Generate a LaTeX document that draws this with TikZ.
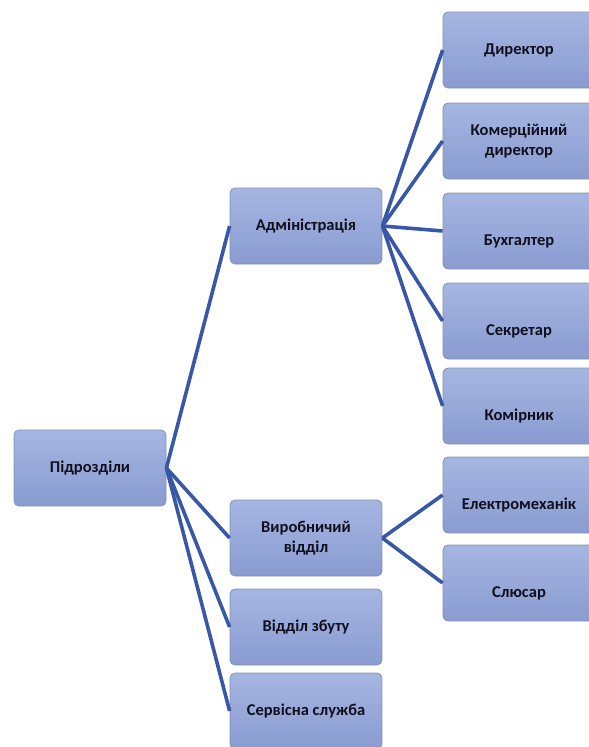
\documentclass[tikz,border=0pt]{standalone}
\usepackage{fontspec}
\setmainfont{Carlito}
\usetikzlibrary{positioning}
\definecolor{boxtop}{HTML}{A6B6E2}
\definecolor{boxbot}{HTML}{899BD0}
\definecolor{boxline}{HTML}{8590B0}
\definecolor{linkblue}{HTML}{3857A6}
\definecolor{txt}{HTML}{10101E}

\begin{document}
\begin{tikzpicture}[x=1pt,y=-1pt,
  unit/.style={draw=boxline, line width=0.8pt, rounded corners=5pt,
    top color=boxtop, bottom color=boxbot,
    minimum width=152pt, minimum height=76pt, inner sep=2pt,
    align=center, text=txt, font=\fontsize{16.5}{20}\selectfont\bfseries},
  low/.style={text height=31pt},
  link/.style={draw=linkblue, line width=3.6pt}]
\useasboundingbox (0,0) rectangle (589,747);
% left column
\node [unit] (pidr) at (90,468) {Підрозділи};
% middle column
\node [unit] (admin) at (306,226) {Адміністрація};
\node [unit] (vyrob) at (306,538) {Виробничий\\відділ};
\node [unit] (zbut) at (306,627) {Відділ збуту};
\node [unit] (serv) at (306,711) {Сервісна служба};
% right column
\node [unit] (dyr) at (519,50) {Директор};
\node [unit,low] (komdyr) at (519,141) {Комерційний\\директор};
\node [unit,low] (buh) at (519,231) {Бухгалтер};
\node [unit,low] (sekr) at (519,321) {Секретар};
\node [unit,low] (komir) at (519,406) {Комірник};
\node [unit,low] (elmeh) at (519,495) {Електромеханік};
\node [unit,low] (slus) at (519,583) {Слюсар};
% links
\foreach \a/\b in {pidr/admin, pidr/vyrob, pidr/zbut, pidr/serv,
  admin/dyr, admin/komdyr, admin/buh, admin/sekr, admin/komir,
  vyrob/elmeh, vyrob/slus}
  \draw [link] (\a.east) -- (\b.west);
\end{tikzpicture}
\end{document}
